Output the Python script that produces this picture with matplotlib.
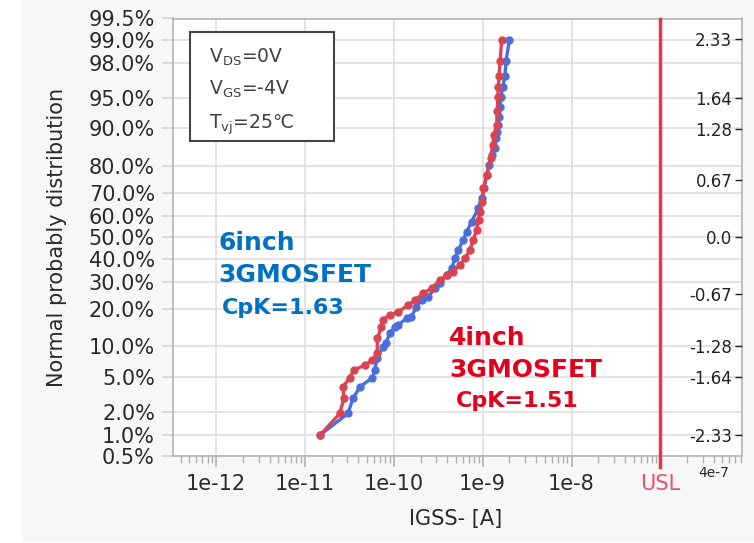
import numpy as np
import matplotlib
matplotlib.use('Agg')
import matplotlib.pyplot as plt
from matplotlib.patches import Rectangle
from statistics import NormalDist

# cumulative percent / IGSS values
red_pct = [1.0, 1.9, 2.9, 3.9, 4.9, 5.9, 6.6, 7.4, 8.6, 11.7,
           14.6, 16.5, 18.0, 19.0, 21.2, 23.0, 25.4, 27.4, 30.7, 32.8,
           34.3, 37.2, 40.2, 44.0, 48.7, 53.4, 58.1, 61.8, 66.3, 71.8,
           76.9, 82.4, 86.2, 88.6, 90.7, 93.1, 95.1, 96.2, 97.1, 98.1, 99.0]
red_igss = [1.49e-11, 2.46e-11, 2.75e-11, 2.68e-11, 3.19e-11, 3.54e-11, 4.71e-11, 5.75e-11, 6.49e-11, 6.55e-11,
            7.26e-11, 7.46e-11, 9.0e-11, 1.12e-10, 1.45e-10, 1.73e-10, 2.14e-10, 2.66e-10, 3.30e-10, 3.93e-10,
            4.67e-10, 5.55e-10, 6.31e-10, 7.18e-10, 7.83e-10, 8.55e-10, 9.0e-10, 9.4e-10, 9.85e-10, 1.02e-9,
            1.11e-9, 1.23e-9, 1.30e-9, 1.34e-9, 1.44e-9, 1.46e-9, 1.48e-9, 1.50e-9, 1.53e-9, 1.57e-9, 1.64e-9]

blue_pct = [1.0, 1.9, 2.9, 3.9, 4.9, 5.9, 7.7, 9.9, 10.6, 12.9,
            14.6, 15.1, 17.0, 17.5, 20.7, 23.0, 24.2, 27.4, 29.4, 32.8,
            35.7, 40.2, 44.0, 48.7, 52.6, 57.3, 63.4, 67.7, 71.8, 76.9,
            80.3, 83.4, 85.3, 87.8, 89.3, 90.7, 92.2, 93.8, 95.1, 96.2, 97.1, 98.1, 99.0]
blue_igss = [1.49e-11, 3.05e-11, 3.48e-11, 4.14e-11, 5.75e-11, 6.11e-11, 6.49e-11, 7.57e-11, 8.13e-11, 9.0e-11,
             1.03e-10, 1.12e-10, 1.39e-10, 1.58e-10, 1.80e-10, 2.05e-10, 2.44e-10, 2.90e-10, 3.30e-10, 3.93e-10,
             4.48e-10, 4.88e-10, 5.31e-10, 6.04e-10, 6.61e-10, 7.52e-10, 8.93e-10, 9.75e-10, 1.04e-9, 1.11e-9,
             1.19e-9, 1.26e-9, 1.38e-9, 1.41e-9, 1.44e-9, 1.48e-9, 1.53e-9, 1.57e-9, 1.61e-9, 1.68e-9,
             1.78e-9, 1.83e-9, 2.00e-9]

pct_ticks = [0.5, 1, 2, 5, 10, 20, 30, 40, 50, 60, 70, 80, 90, 95, 98, 99, 99.5]
z_ticks = [2.33, 1.64, 1.28, 0.67, 0.0, -0.67, -1.28, -1.64, -2.33]
z_labels = ['2.33', '1.64', '1.28', '0.67', '0.0', '-0.67', '-1.28', '-1.64', '-2.33']
x_ticks = [1e-12, 1e-11, 1e-10, 1e-9, 1e-8, 1e-7]
x_labels = ['1e-12', '1e-11', '1e-10', '1e-9', '1e-8', 'USL']
usl = 1e-7

nd = NormalDist()
def pz(p):
    return [nd.inv_cdf(v / 100.0) for v in p]

fig = plt.figure(figsize=(7.54, 5.43), dpi=100)
fig.patch.set_facecolor('white')
fig.add_artist(Rectangle((22 / 754, 3 / 543), 1 - 22 / 754, 1 - 3 / 543,
                         transform=fig.transFigure, color='#f7f7f7', zorder=-10))

ax = fig.add_axes([173 / 754, 1 - 456 / 543, (742 - 173) / 754, (456 - 18.5) / 543])
ax.set_facecolor('white')

ax.set_xscale('log')
ax.set_xlim(3.27e-13, 8.3e-7)
zlo, zhi = nd.inv_cdf(0.005), nd.inv_cdf(0.995)
ax.set_ylim(zlo, zhi)

ax.plot(blue_igss, pz(blue_pct), '-o', color='#4a6fdc', lw=2.4, ms=5, zorder=4)
ax.plot(red_igss, pz(red_pct), '-o', color='#d94452', lw=2.4, ms=5, zorder=5)

ax.axvline(usl, ymin=-0.025, ymax=1, color='#e8364f', lw=2.5, clip_on=False, zorder=6)

# left probability axis
ax.set_yticks(pz(pct_ticks))
ax.set_yticklabels(['%.1f%%' % p for p in pct_ticks])
ax.tick_params(axis='y', length=8, width=1.2, color='#d4d4d4', labelsize=15,
               labelcolor='#2a2a2a', pad=5)
ax.set_xticks(x_ticks)
ax.set_xticklabels(x_labels)
ax.set_xticks([m * d for d in [1e-13, 1e-12, 1e-11, 1e-10, 1e-9, 1e-8, 1e-7]
               for m in range(2, 10) if 3.27e-13 < m * d < 8.3e-7], minor=True)
ax.tick_params(axis='x', which='major', length=8, width=1.2, color='#b0b0b0',
               labelsize=15, labelcolor='#2a2a2a', pad=5)
ax.tick_params(axis='x', which='minor', length=5, width=1.0, color='#b0b0b0',
               labelbottom=False)
ax.get_xticklabels()[-1].set_color('#f0506e')

ax.grid(True, which='major', color='#dedede', lw=1.2)
ax.set_axisbelow(True)
for s in ax.spines.values():
    s.set_color('#b4b4b4')
    s.set_linewidth(1.2)

ax.text(4e-7, -0.023, '4e-7', transform=ax.get_xaxis_transform(), ha='center',
        va='top', fontsize=10, color='#2a2a2a')

ax.set_xlabel('IGSS- [A]', fontsize=15, color='#2a2a2a')
ax.xaxis.set_label_coords(0.497, -0.122)
ax.set_ylabel('Normal probably distribution', fontsize=15, color='#2a2a2a')
ax.yaxis.set_label_coords(-0.186, 0.5)

# z-score axis drawn inside on the right
ax2 = ax.twinx()
ax2.set_ylim(zlo, zhi)
ax2.set_yticks(z_ticks)
ax2.set_yticklabels(z_labels)
ax2.tick_params(axis='y', direction='in', length=5, width=1.0, color='#222222',
                labelsize=12, labelcolor='#222222', pad=-7)
for lb in ax2.get_yticklabels():
    lb.set_horizontalalignment('right')
for s in ax2.spines.values():
    s.set_visible(False)

# condition box
ax.add_patch(Rectangle((0.0299, 0.72), 0.253, 0.249, transform=ax.transAxes,
                       facecolor='white', edgecolor='#454545', lw=1.5, zorder=7))
cond = [r'V$_{\mathrm{DS}}$=0V', r'V$_{\mathrm{GS}}$=-4V', r'T$_{\mathrm{vj}}$=25℃']
for txt, yy in zip(cond, [0.90, 0.8266, 0.749]):
    ax.text(0.0638, yy, txt, transform=ax.transAxes, fontsize=13.5, color='#404040',
            va='baseline', zorder=8)

blue_txt = '#0070c0'
red_txt = '#e2001a'
ax.text(0.0796, 0.471, '6inch', transform=ax.transAxes, fontsize=18, fontweight='bold',
        color=blue_txt, va='baseline')
ax.text(0.0796, 0.398, '3GMOSFET', transform=ax.transAxes, fontsize=18, fontweight='bold',
        color=blue_txt, va='baseline')
ax.text(0.0856, 0.3246, 'CpK=1.63', transform=ax.transAxes, fontsize=16, fontweight='bold',
        color=blue_txt, va='baseline')
ax.text(0.485, 0.2537, '4inch', transform=ax.transAxes, fontsize=18, fontweight='bold',
        color=red_txt, va='baseline')
ax.text(0.485, 0.181, '3GMOSFET', transform=ax.transAxes, fontsize=18, fontweight='bold',
        color=red_txt, va='baseline')
ax.text(0.497, 0.1127, 'CpK=1.51', transform=ax.transAxes, fontsize=16, fontweight='bold',
        color=red_txt, va='baseline')

fig.savefig('out.png', dpi=100)
